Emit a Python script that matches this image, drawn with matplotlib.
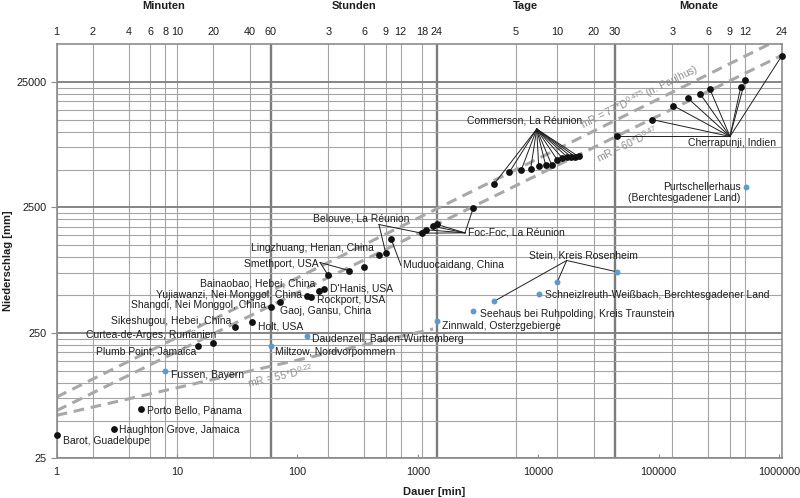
import numpy as np
import matplotlib
matplotlib.use("Agg")
import matplotlib.pyplot as plt
from matplotlib.ticker import NullLocator
from matplotlib.transforms import blended_transform_factory

plt.rcParams["font.family"] = ["Liberation Sans", "DejaVu Sans"]
plt.rcParams["mathtext.fontset"] = "custom"
plt.rcParams["mathtext.rm"] = "Liberation Sans"
plt.rcParams["mathtext.it"] = "Liberation Sans:italic"

# ---- data: rainfall records, duration [min] vs depth [mm] ----
# world records (black)
WORLD_D = [1, 3, 5, 15, 20, 30, 42, 60, 72, 120, 130, 150, 165, 180, 270, 360,
           475, 540, 600, 1075, 1170, 1330, 1440, 2880,
           4320, 5760, 7200, 8640, 10080, 11520, 12960, 14400, 15840, 17280,
           18720, 20160, 21600,
           44640, 87840, 132480, 175680, 220320, 264960, 480000, 524000, 1051200]
WORLD_R = [38, 43, 62, 198, 206, 280, 305, 401, 440, 489, 483, 537, 559, 716, 782, 830,
           1035, 1080, 1390, 1555, 1655, 1765, 1825, 2460,
           3860, 4780, 4920, 5050, 5300, 5400, 5400, 5950, 6180, 6320,
           6330, 6340, 6350,
           9170, 12500, 16100, 18400, 20150, 22100, 22650, 26000, 40150]
# German records (blue)
DE_D = [8, 60, 120, 1440, 2880, 4320, 10080, 14400, 44640, 530000]
DE_R = [124, 196, 235, 310, 371, 447, 506, 638, 766, 3605]

# envelope curves mR = a * D^b, drawn over duration range [d0, d1]
CURVES = [(77, 0.475, 1, 1051200), (60, 0.47, 1, 1051200), (55, 0.22, 1, 1340)]
CURVE_TEXT = ["mR = 77*D$^{0.475}$ (n. Paulhus)", "mR = 60*D$^{0.47}$", "mR = 55*D$^{0.22}$"]
CURVE_TEXT_AT = [(69000, 19000), (55000, 8000), (71.5, 114)]

# top axis (time units)
TOP_TICKS = [1, 2, 4, 6, 8, 10, 20, 40, 60, 180, 360, 540, 720, 1080, 1440,
             6500, 14400, 28800, 43200, 129600, 259200, 388800, 518400, 1051200]
TOP_LABELS = ["1", "2", "4", "6", "8", "10", "20", "40", "60", "3", "6", "9", "12", "18", "24",
              "5", "10", "20", "30", "3", "6", "9", "12", "24"]
PERIODS = [("Minuten", 1, 60), ("Stunden", 60, 1440), ("Tage", 1440, 43200),
           ("Monate", 43200, 1051200)]
X_TICKS = [1, 10, 100, 1000, 10000, 100000, 1000000]
Y_TICKS = [25, 250, 2500, 25000]

# (text, D, R, ha)
LABELS = [
    ("Barot, Guadeloupe", 1.12, 34.5, "left"),
    ("Haughton Grove, Jamaica", 3.31, 42.0, "left"),
    ("Porto Bello, Panama", 5.65, 60.2, "left"),
    ("Fussen, Bayern", 8.85, 115, "left"),
    ("Plumb Point, Jamaica", 14.35, 176, "right"),
    ("Curtea-de-Arges, Rumänien", 21.0, 242, "right"),
    ("Sikeshugou, Hebei, China", 28.4, 310, "right"),
    ("Holt, USA", 47.2, 281, "left"),
    ("Shangdi, Nei Monggol, China", 54.7, 413, "right"),
    ("Gaoj, Gansu, China", 71.5, 371, "left"),
    ("Yujiawanzi, Nei Monggol, China", 108, 503, "right"),
    ("Rockport, USA", 146, 453, "left"),
    ("Bainaobao, Hebei, China", 140, 616, "right"),
    ("D'Hanis, USA", 186, 561, "left"),
    ("Smethport, USA", 149, 887, "right"),
    ("Lingzhuang, Henan, China", 426, 1180, "right"),
    ("Belouve, La Réunion", 134, 2044, "left"),
    ("Muduocaidang, China", 748, 860, "left"),
    ("Foc-Foc, La Réunion", 2590, 1564, "left"),
    ("Commerson, La Réunion", 2570, 12230, "left"),
    ("Cherrapunji, Indien", 176100, 8070, "left"),
    ("Purtschellerhaus\n(Berchtesgadener Land)", 479700, 3290, "right"),
    ("Daudenzell, Baden-Württemberg", 132.7, 225, "left"),
    ("Miltzow, Nordvorpommern", 65.0, 176, "left"),
    ("Zinnwald, Osterzgebierge", 1594, 285, "left"),
    ("Seehaus bei Ruhpolding, Kreis Traunstein", 3280, 355, "left"),
    ("Schneizlreuth-Weißbach, Berchtesgadener Land", 11370, 503, "left"),
    ("Stein, Kreis Rosenheim", 8420, 1038, "left"),
]

# leader lines: (apex D, apex R, series, point indices)
LEADERS = [
    (9700, 10500, "w", range(24, 37)),
    (391000, 9170, "w", range(37, 46)),
    (2460, 1564, "w", range(19, 24)),
    (475, 1822, "w", [17, 19]),
    (724, 860, "w", [18]),
    (154, 908, "w", [13, 14]),
    (17210, 942, "d", [5, 7, 8]),
]

GRID = "#a4a4a4"
GRID_DARK = "#7c7c7c"
TXT = "#1e1e1e"

fig = plt.figure(figsize=(8, 4.98), dpi=100)
ax = fig.add_axes([56.7 / 800, 1 - 458.3 / 498, 725 / 800, 414.3 / 498])
ax.set_xscale("log")
ax.set_yscale("log")
ax.set_xlim(1, 1051200)
ax.set_ylim(25, 50000)

# grid
for v in TOP_TICKS:
    thick = v in (60, 1440, 43200)
    ax.axvline(v, color=GRID_DARK if thick else GRID, lw=1.7 if thick else 0.8, zorder=0)
for m in Y_TICKS:
    ax.axhline(m, color=GRID_DARK, lw=1.3, zorder=0)
    for k in range(2, 10):
        if k * m < 50000:
            ax.axhline(k * m, color=GRID, lw=0.8, zorder=0)

# envelope curves
for (a, b, d0, d1), txt, (tx, ty) in zip(CURVES, CURVE_TEXT, CURVE_TEXT_AT):
    xs = np.array([d0, d1], dtype=float)
    ax.plot(xs, a * xs ** b, color="#a8a8a8", lw=2.2, ls=(0, (3.5, 2.2)), zorder=2)
    p0 = ax.transData.transform((10, a * 10 ** b))
    p1 = ax.transData.transform((1e5, a * 1e5 ** b))
    ang = np.degrees(np.arctan2(p1[1] - p0[1], p1[0] - p0[0]))
    ax.text(tx, ty, txt, rotation=ang, rotation_mode="anchor", ha="center", va="center",
            fontsize=7.5, color="#8e8e8e", zorder=3)

# leaders
for apx, apy, ser, idx in LEADERS:
    D, R = (WORLD_D, WORLD_R) if ser == "w" else (DE_D, DE_R)
    for i in idx:
        ax.plot([apx, D[i]], [apy, R[i]], color="#202020", lw=0.7, zorder=4)

ax.scatter(WORLD_D, WORLD_R, s=24, color="#111111", zorder=5, clip_on=False, linewidths=0)
ax.scatter(DE_D, DE_R, s=18, color="#5b9bd5", zorder=5, clip_on=False, linewidths=0)

for txt, x, y, ha in LABELS:
    ax.text(x, y, txt, ha=ha, va="center", fontsize=7.5, color=TXT, zorder=6,
            multialignment="right", linespacing=1.05)

# axes styling
for s in ax.spines.values():
    s.set_color("#8c8c8c")
    s.set_linewidth(1.2)
ax.set_xticks(X_TICKS, [str(v) for v in X_TICKS])
ax.set_yticks(Y_TICKS, [str(v) for v in Y_TICKS])
ax.xaxis.set_minor_locator(NullLocator())
ax.yaxis.set_minor_locator(NullLocator())
ax.tick_params(axis="x", direction="in", length=3, color="#8c8c8c", labelsize=7.8,
               pad=6, labelcolor=TXT)
ax.tick_params(axis="y", direction="out", length=4, color="#8c8c8c", labelsize=7.8,
               pad=3, labelcolor=TXT)

top = ax.twiny()
top.set_xscale("log")
top.set_xlim(ax.get_xlim())
top.set_xticks(TOP_TICKS, TOP_LABELS)
top.xaxis.set_minor_locator(NullLocator())
top.tick_params(axis="x", length=0, labelsize=7.8, pad=5, labelcolor=TXT)
for s in top.spines.values():
    s.set_visible(False)

tr = blended_transform_factory(ax.transData, fig.transFigure)
for name, lo, hi in PERIODS:
    ax.text(np.sqrt(lo * hi), 1 - 6 / 498, name, transform=tr, ha="center", va="center",
            fontsize=8, fontweight="bold", color=TXT)

fig.text(434.5 / 800, 1 - 491.5 / 498, "Dauer [min]", ha="center", va="center",
         fontsize=8, fontweight="bold", color=TXT)
fig.text(8 / 800, 1 - 261 / 498, "Niederschlag [mm]", ha="center", va="center",
         rotation=90, fontsize=8, fontweight="bold", color=TXT)

fig.savefig("out.png", dpi=100)
